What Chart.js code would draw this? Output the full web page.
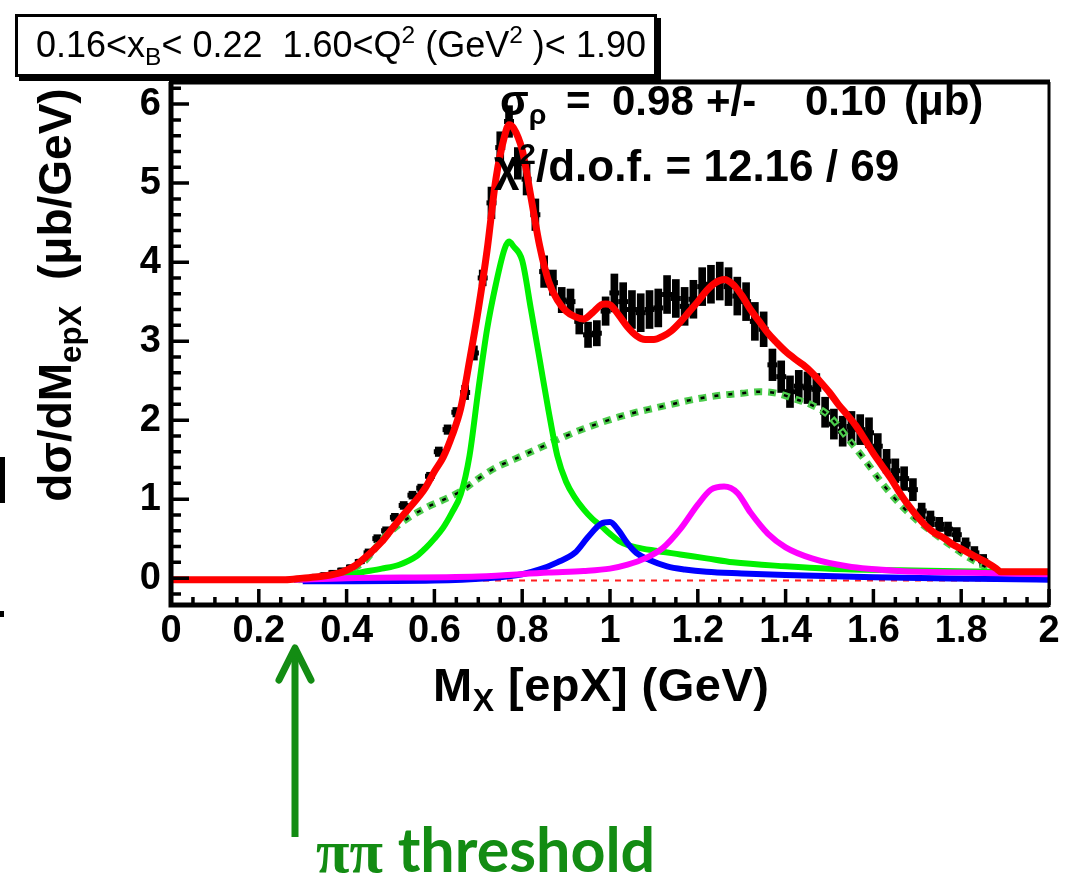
<!DOCTYPE html>
<html>
<head>
<meta charset="utf-8">
<script src="https://cdn.jsdelivr.net/npm/chart.js@4.4.1/dist/chart.umd.min.js"></script>
<style>
  html, body { margin: 0; padding: 0; background: #fff; }
  body { width: 1066px; height: 877px; position: relative; overflow: hidden;
         font-family: 'Liberation Sans', Arial, Helvetica, sans-serif; }
  #wrap { position: absolute; left: 0; top: 0; width: 1066px; height: 877px; }
  .t { position: absolute; white-space: pre; color: #000; line-height: 1; }
  .b { font-weight: bold; }
  sub { font-size: 0.68em; vertical-align: -0.32em; line-height: 0; }
  sup { font-size: 0.68em; vertical-align: 0.58em; line-height: 0; }
  #titleBox { position: absolute; left: 15px; top: 14px; width: 636px; height: 57px;
              border: 3px solid #000; box-shadow: 4px 4px 0 #000; background: #fff; }
  .cut { position: absolute; background: #000; }
</style>
</head>
<body>
<div id="wrap"><canvas id="chart" width="1066" height="877"></canvas></div>

<div id="titleBox"></div>
<div class="t" style="left:36px;top:27px;font-size:36px;">0.16&lt;x<sub>B</sub>&lt; 0.22  1.60&lt;Q<sup>2</sup> (GeV<sup>2</sup> )&lt; 1.90</div>

<div class="t b" style="left:500px;top:80px;font-size:42px;">σ<sub>ρ</sub></div>
<div class="t b" style="left:566px;top:80px;font-size:42px;">=</div>
<div class="t b" style="left:612px;top:80px;font-size:42px;">0.98</div>
<div class="t b" style="left:706px;top:80px;font-size:42px;">+/-</div>
<div class="t b" style="left:805px;top:80px;font-size:42px;">0.10</div>
<div class="t b" style="left:904px;top:80px;font-size:42px;">(μb)</div>
<div class="t b" style="left:494px;top:144px;font-size:44px;">χ<sup>2</sup>/d.o.f. = 12.16 / 69</div>

<div class="t b" style="left:-205px;top:272px;width:520px;height:46px;text-align:center;font-size:46px;transform:rotate(-90deg);">dσ/dM<sub>epX</sub>  (μb/GeV)</div>
<div class="t b" style="left:433px;top:661px;font-size:47px;letter-spacing:0.5px;">M<sub>X</sub> [epX] (GeV)</div>

<svg style="position:absolute;left:270px;top:640px;" width="50" height="205">
  <line x1="25" y1="12" x2="25" y2="197" stroke="#138c13" stroke-width="7"/>
  <polyline points="9,40 25,8 41,40" fill="none" stroke="#138c13" stroke-width="7" stroke-linecap="round" stroke-linejoin="round"/>
</svg>
<div class="t b" style="left:316px;top:818px;font-size:61px;color:#138c13;font-family:Lato,'Open Sans',sans-serif;"><span style="font-family:'Liberation Serif','DejaVu Serif',serif;">ππ</span> threshold</div>

<div class="cut" style="left:0;top:457px;width:5px;height:46px;"></div>
<div class="cut" style="left:0;top:611px;width:4px;height:6px;"></div>

<script>
// measured points: bin centres (GeV), dsigma/dM (ub/GeV), half error
const dataX = [0.31, 0.33, 0.35, 0.37, 0.39, 0.41, 0.43, 0.45, 0.47, 0.49,
  0.51, 0.53, 0.55, 0.57, 0.59, 0.61, 0.63, 0.65, 0.67, 0.69,
  0.71, 0.73, 0.75, 0.77, 0.79, 0.81, 0.83, 0.85, 0.87, 0.89,
  0.91, 0.93, 0.95, 0.97, 0.99, 1.01, 1.03, 1.05, 1.07, 1.09,
  1.11, 1.13, 1.15, 1.17, 1.19, 1.21, 1.23, 1.25, 1.27, 1.29,
  1.31, 1.33, 1.35, 1.37, 1.39, 1.41, 1.43, 1.45, 1.47, 1.49,
  1.51, 1.53, 1.55, 1.57, 1.59, 1.61, 1.63, 1.65, 1.67, 1.69,
  1.71, 1.73, 1.75, 1.77, 1.79, 1.81, 1.83, 1.85];
const dataY = [0.00, 0.02, 0.04, 0.07, 0.10, 0.14, 0.21, 0.32, 0.50, 0.60,
  0.77, 0.92, 1.05, 1.14, 1.29, 1.60, 1.88, 2.10, 2.35, 2.85,
  3.80, 4.75, 5.45, 5.78, 5.25, 5.05, 4.60, 3.88, 3.74, 3.52,
  3.50, 3.25, 3.08, 3.10, 3.38, 3.61, 3.50, 3.40, 3.36, 3.40,
  3.42, 3.59, 3.54, 3.44, 3.53, 3.69, 3.72, 3.76, 3.69, 3.57,
  3.50, 3.25, 3.15, 2.70, 2.55, 2.36, 2.43, 2.41, 2.39, 2.10,
  1.95, 1.86, 1.92, 1.88, 1.84, 1.67, 1.48, 1.36, 1.26, 1.12,
  0.85, 0.75, 0.68, 0.62, 0.55, 0.43, 0.32, 0.22];
const dataErr = [0.03, 0.03, 0.03, 0.03, 0.03, 0.03, 0.03, 0.05, 0.05, 0.05,
  0.05, 0.05, 0.05, 0.05, 0.05, 0.06, 0.06, 0.06, 0.09, 0.09,
  0.10, 0.20, 0.20, 0.20, 0.20, 0.20, 0.20, 0.20, 0.16, 0.16,
  0.16, 0.16, 0.16, 0.16, 0.18, 0.24, 0.24, 0.24, 0.24, 0.24,
  0.24, 0.24, 0.24, 0.24, 0.24, 0.24, 0.24, 0.24, 0.24, 0.24,
  0.24, 0.24, 0.22, 0.20, 0.20, 0.20, 0.20, 0.20, 0.20, 0.19,
  0.19, 0.19, 0.19, 0.19, 0.19, 0.16, 0.15, 0.15, 0.15, 0.14,
  0.10, 0.10, 0.09, 0.09, 0.09, 0.08, 0.08, 0.08];

// fit curves as [x, y]
const totalFit = [[0, -0.02], [0.26, -0.02], [0.30, 0.00], [0.34, 0.02], [0.38, 0.06],
  [0.40, 0.10], [0.42, 0.16], [0.44, 0.25], [0.46, 0.35], [0.48, 0.46], [0.50, 0.60],
  [0.52, 0.74], [0.54, 0.87], [0.56, 1.00], [0.58, 1.15], [0.60, 1.35], [0.62, 1.53],
  [0.64, 1.80], [0.66, 2.15], [0.68, 2.75], [0.70, 3.40], [0.72, 4.15], [0.74, 5.05],
  [0.76, 5.60], [0.77, 5.74], [0.78, 5.70], [0.80, 5.42], [0.82, 4.82], [0.84, 4.20],
  [0.86, 3.76], [0.88, 3.52], [0.90, 3.38], [0.92, 3.31], [0.94, 3.28], [0.96, 3.36],
  [0.98, 3.46], [0.99, 3.47], [1.00, 3.46], [1.02, 3.33], [1.04, 3.18], [1.06, 3.07],
  [1.08, 3.02], [1.10, 3.02], [1.12, 3.06], [1.14, 3.13], [1.16, 3.24], [1.18, 3.37],
  [1.20, 3.50], [1.22, 3.64], [1.24, 3.74], [1.26, 3.78], [1.28, 3.72], [1.30, 3.58],
  [1.32, 3.40], [1.34, 3.25], [1.36, 3.10], [1.38, 2.98], [1.40, 2.87], [1.42, 2.78],
  [1.44, 2.70], [1.46, 2.60], [1.48, 2.48], [1.50, 2.35], [1.52, 2.20], [1.54, 2.07],
  [1.56, 1.93], [1.58, 1.76], [1.60, 1.58], [1.62, 1.42], [1.64, 1.26], [1.66, 1.08],
  [1.68, 0.92], [1.70, 0.78], [1.72, 0.66], [1.74, 0.57], [1.76, 0.51], [1.78, 0.43],
  [1.80, 0.37], [1.82, 0.31], [1.84, 0.25], [1.86, 0.19], [1.88, 0.12], [1.89, 0.08],
  [2.00, 0.08]];
const rhoFit = [[0.28, -0.02], [0.34, 0.00], [0.40, 0.04], [0.44, 0.08], [0.48, 0.12],
  [0.52, 0.17], [0.56, 0.28], [0.58, 0.38], [0.60, 0.50], [0.62, 0.64], [0.64, 0.83],
  [0.66, 1.06], [0.68, 1.55], [0.70, 2.38], [0.72, 3.15], [0.74, 3.72], [0.76, 4.17],
  [0.77, 4.26], [0.78, 4.20], [0.80, 4.02], [0.82, 3.40], [0.84, 2.76], [0.86, 2.12],
  [0.88, 1.55], [0.90, 1.22], [0.92, 1.02], [0.94, 0.87], [0.96, 0.75], [0.98, 0.66],
  [1.00, 0.56], [1.02, 0.47], [1.04, 0.42], [1.06, 0.39], [1.10, 0.35], [1.16, 0.30],
  [1.22, 0.25], [1.28, 0.20], [1.40, 0.15], [1.50, 0.12], [1.66, 0.10], [1.88, 0.08],
  [2.00, 0.07]];
const bgFit = [[0.29, -0.02], [0.33, 0.00], [0.37, 0.04], [0.40, 0.09], [0.44, 0.21],
  [0.48, 0.48], [0.50, 0.59], [0.54, 0.76], [0.58, 0.89], [0.62, 0.99], [0.66, 1.10],
  [0.70, 1.26], [0.74, 1.40], [0.78, 1.50], [0.82, 1.60], [0.86, 1.70], [0.90, 1.80],
  [0.94, 1.89], [0.98, 1.97], [1.02, 2.04], [1.06, 2.10], [1.10, 2.15], [1.14, 2.20],
  [1.18, 2.25], [1.22, 2.29], [1.26, 2.32], [1.30, 2.34], [1.34, 2.36], [1.38, 2.34],
  [1.42, 2.27], [1.46, 2.19], [1.50, 2.05], [1.54, 1.78], [1.58, 1.50], [1.62, 1.20],
  [1.66, 0.94], [1.70, 0.73], [1.74, 0.56], [1.78, 0.40], [1.82, 0.25], [1.86, 0.13],
  [1.88, 0.07], [1.90, 0.02]];
const f2Fit = [[0.30, -0.04], [0.60, -0.03], [0.72, 0.00], [0.80, 0.05], [0.84, 0.11],
  [0.88, 0.20], [0.92, 0.32], [0.95, 0.52], [0.98, 0.69], [1.00, 0.71], [1.02, 0.60],
  [1.04, 0.44], [1.06, 0.32], [1.09, 0.23], [1.13, 0.15], [1.17, 0.11], [1.22, 0.08],
  [1.30, 0.06], [1.40, 0.04], [1.60, 0.01], [1.88, -0.01], [2.00, -0.02]];
const f3Fit = [[0.28, -0.02], [0.40, 0.00], [0.70, 0.02], [0.86, 0.07], [0.94, 0.09],
  [1.00, 0.12], [1.04, 0.17], [1.08, 0.25], [1.12, 0.38], [1.16, 0.62], [1.20, 0.93],
  [1.23, 1.12], [1.26, 1.16], [1.29, 1.08], [1.32, 0.83], [1.36, 0.56], [1.40, 0.39],
  [1.46, 0.25], [1.54, 0.15], [1.66, 0.09], [1.80, 0.07], [2.00, 0.05]];
const zeroLine = [[0, -0.03], [2, -0.03]];

const xTickValues = [0, 0.2, 0.4, 0.6, 0.8, 1, 1.2, 1.4, 1.6, 1.8, 2];
const xTickLabels = ['0', '0.2', '0.4', '0.6', '0.8', '1', '1.2', '1.4', '1.6', '1.8', '2'];
const yTickValues = [0, 1, 2, 3, 4, 5, 6];
const yTickLabels = ['0', '1', '2', '3', '4', '5', '6'];

const FONT = "'Liberation Sans', Arial, Helvetica, sans-serif";
const xy = arr => arr.map(p => ({ x: p[0], y: p[1] }));

function curve(pairs, color, order, extra) {
  return Object.assign({
    type: 'line', data: xy(pairs), borderColor: color, borderWidth: 6,
    pointRadius: 0, fill: false, cubicInterpolationMode: 'monotone', order: order
  }, extra || {});
}

// ROOT-style frame with inward ticks
const rootFrame = {
  id: 'rootFrame',
  afterDraw(chart) {
    const { ctx, chartArea: a, scales: { x, y } } = chart;
    ctx.save();
    ctx.strokeStyle = '#000';
    ctx.lineWidth = 3.5;
    ctx.beginPath();
    for (let k = -1; k <= 31; k++) {
      const py = y.getPixelForValue(k * 0.2);
      if (py < a.top || py > a.bottom) continue;
      const len = k % 5 === 0 ? 18 : 10;
      ctx.moveTo(a.left, py); ctx.lineTo(a.left + len, py);
    }
    for (let k = 0; k <= 40; k++) {
      const px = x.getPixelForValue(k * 0.05);
      const len = k % 4 === 0 ? 16 : 8;
      ctx.moveTo(px, a.bottom); ctx.lineTo(px, a.bottom - len);
    }
    ctx.stroke();
    ctx.lineWidth = 5;
    ctx.beginPath();
    ctx.moveTo(a.left, a.top); ctx.lineTo(a.left, a.bottom); ctx.lineTo(a.right, a.bottom);
    ctx.moveTo(a.left - 2, a.top); ctx.lineTo(a.right + 1, a.top);
    ctx.stroke();
    ctx.lineWidth = 3;
    ctx.beginPath();
    ctx.moveTo(a.right, a.top); ctx.lineTo(a.right, a.bottom + 2);
    ctx.stroke();
    ctx.restore();
  }
};

new Chart(document.getElementById('chart'), {
  type: 'line',
  data: {
    datasets: [
      curve(totalFit, '#ff0000', 0, { borderWidth: 7 }),
      curve(f3Fit, '#ff00ff', 1),
      curve(f2Fit, '#0000ff', 2),
      curve(rhoFit, '#00f000', 3),
      curve(bgFit, '#000000', 4, { borderWidth: 2.5, borderDash: [4, 10], borderDashOffset: -2 }),
      curve(bgFit, '#4ccc4c', 5, { borderWidth: 7, borderDash: [8, 6] }),
      curve(zeroLine, '#ff2020', 6, { borderWidth: 2, borderDash: [6, 6], cubicInterpolationMode: 'default', tension: 0 }),
      {
        type: 'line', showLine: false, order: 7,
        data: dataX.map((x, i) => ({ x: x, y: dataY[i] })),
        pointStyle: 'line', pointRadius: 5, borderWidth: 5, borderColor: '#000'
      },
      {
        type: 'bar', order: 8, grouped: false, barThickness: 7,
        data: dataX.map((x, i) => ({ x: x, y: [dataY[i] - dataErr[i], dataY[i] + dataErr[i]] })),
        backgroundColor: '#000'
      }
    ]
  },
  options: {
    responsive: false,
    animation: false,
    events: [],
    layout: { padding: { left: 0, top: 82, right: 17, bottom: 222 } },
    plugins: { legend: { display: false }, tooltip: { enabled: false } },
    scales: {
      x: {
        type: 'linear', min: 0, max: 2, offset: false,
        grid: { display: false, drawTicks: false }, border: { display: false },
        afterBuildTicks: s => { s.ticks = xTickValues.map(v => ({ value: v })); },
        afterFit: s => { s.height = 50; },
        ticks: {
          autoSkip: false, maxRotation: 0, padding: 4, color: '#000',
          font: { family: FONT, size: 38, weight: 'bold' },
          callback: (v, i) => xTickLabels[i]
        }
      },
      y: {
        type: 'linear', min: -0.34, max: 6.28,
        grid: { display: false, drawTicks: false }, border: { display: false },
        afterBuildTicks: s => { s.ticks = yTickValues.map(v => ({ value: v })); },
        afterFit: s => { s.width = 171; },
        ticks: {
          padding: 10, color: '#000',
          font: { family: FONT, size: 38, weight: 'bold' },
          callback: (v, i) => yTickLabels[i]
        }
      }
    }
  },
  plugins: [rootFrame]
});
</script>
</body>
</html>
